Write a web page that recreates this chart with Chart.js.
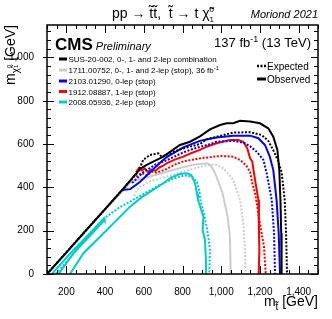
<!DOCTYPE html>
<html>
<head>
<meta charset="utf-8">
<script src="https://cdn.jsdelivr.net/npm/chart.js@4.4.1/dist/chart.umd.min.js"></script>
<style>html,body{margin:0;padding:0;background:#fff}</style>
</head>
<body>
<canvas id="c" width="332" height="319"></canvas>
<script>
// axis ticks
const xTicks = [200, 400, 600, 800, 1000, 1200, 1400];
const yTicks = [0, 200, 400, 600, 800, 1000];

// contours, [m_stop, m_lsp] in GeV
const comboObs = [[100,0],[200,100],[300,200],[400,300],[500,400],[580,485],[615,504],[649,519],[701,542],[787,596],[839,611],[890,636],[942,668],[994,688],[1028,696],[1062,696],[1097,708],[1149,704],[1200,696],[1243,673],[1269,634],[1290,573],[1300,480],[1306,342],[1310,188],[1312,0]];
const comboExp = [[100,0],[200,100],[300,200],[400,300],[500,400],[570,470],[597,527],[632,550],[675,557],[692,542],[740,560],[804,580],[890,600],[925,622],[976,634],[1062,653],[1149,655],[1209,642],[1243,615],[1270,570],[1295,520],[1312,470],[1328,342],[1335,189],[1340,0]];
const old36Obs = [[104,0],[204,100],[304,200],[404,300],[500,392],[540,430],[597,440],[649,455],[701,468],[770,485],[856,505],[925,511],[942,505],[960,480],[976,450],[1007,373],[1033,265],[1045,172],[1049,0]];
const old36Exp = [[550,360],[563,388],[580,403],[632,427],[718,450],[804,473],[890,495],[942,504],[976,504],[1011,488],[1062,434],[1097,342],[1114,234],[1123,111],[1126,0]];
const zeroLepObs = [[485,388],[530,392],[580,425],[632,470],[680,510],[718,540],[804,585],[890,615],[942,625],[976,630],[1062,639],[1149,639],[1192,627],[1226,596],[1250,545],[1269,480],[1286,342],[1297,188],[1304,0]];
const zeroLepExp = [[540,420],[597,470],[660,505],[718,525],[800,560],[856,578],[942,600],[976,611],[1062,615],[1120,605],[1149,590],[1183,565],[1218,527],[1235,465],[1261,342],[1273,188],[1278,0]];
const oneLepObs = [[560,470],[575,490],[590,478],[605,488],[620,472],[640,482],[660,476],[680,492],[700,500],[718,511],[760,528],[804,542],[850,560],[890,573],[925,588],[976,604],[1045,619],[1088,619],[1114,611],[1135,580],[1149,534],[1160,520],[1175,434],[1192,342],[1195,188],[1197,111],[1194,0]];
const oneLepExp = [[560,450],[590,466],[615,455],[640,472],[667,468],[718,485],[760,505],[804,520],[890,534],[994,545],[1062,542],[1100,525],[1130,500],[1150,470],[1160,420],[1175,373],[1200,234],[1221,126],[1230,0]];
const twoLepObs = [[219,0],[288,96],[374,172],[460,249],[529,311],[590,355],[650,390],[701,419],[740,445],[787,462],[822,465],[845,457],[865,419],[875,370],[880,342],[895,300],[908,265],[904,203],[916,157],[921,65],[921,0]];
const twoLepObsLoop = [[125,0],[236,110],[322,188],[395,258],[398,250],[322,176],[236,95],[160,0]];
const twoLepExp = [[145,0],[230,85],[320,180],[408,265],[470,305],[529,334],[600,370],[680,410],[750,440],[810,455],[850,450],[875,425],[888,380],[892,342],[910,280],[925,218],[935,160],[942,111],[938,0]];

const legendLabels = [
  'SUS-20-002, 0-, 1- and 2-lep combination',
  '1711.00752, 0-, 1- and 2-lep (stop), 36 fb',
  '2103.01290, 0-lep (stop)',
  '1912.08887, 1-lep (stop)',
  '2008.05936, 2-lep (stop)'
];
const BLACK = '#000000', GREY = '#cccccc', BLUE = '#0000ff', RED = '#ff0000', CYAN = '#00cccc';
const legendColors = [BLACK, GREY, BLUE, RED, CYAN];

const FONT = '"Liberation Sans", Arial, "DejaVu Sans", sans-serif';
const DOT = [2, 1.6];

function curve(pts, color, dashed) {
  return {
    data: pts.map(p => ({ x: p[0], y: p[1] })),
    borderColor: color,
    borderWidth: 2,
    borderDash: dashed ? DOT : [],
    showLine: true,
    fill: false,
    pointRadius: 0,
    tension: 0
  };
}

// draws a run of text pieces, sizes and offsets each
function rich(ctx, x, y, parts, alignRight) {
  const w = parts.map(p => {
    if (p.sup !== undefined) {
      ctx.font = `${p.size}px ${FONT}`;
      return Math.max(ctx.measureText(p.sup).width, ctx.measureText(p.sub).width);
    }
    ctx.font = `${p.style || ''} ${p.size}px ${FONT}`;
    return ctx.measureText(p.t).width;
  });
  let cx = alignRight ? x - w.reduce((a, b) => a + b, 0) : x;
  parts.forEach((p, i) => {
    if (p.sup !== undefined) {
      ctx.font = `${p.size}px ${FONT}`;
      ctx.fillText(p.sup, cx, y - p.size * 0.75);
      ctx.fillText(p.sub, cx, y + p.size * 0.55);
    } else {
      ctx.font = `${p.style || ''} ${p.size}px ${FONT}`;
      ctx.fillText(p.t, cx, y + (p.dy || 0));
    }
    cx += w[i];
  });
}

const decor = {
  id: 'decor',
  afterDraw(chart) {
    const ctx = chart.ctx;
    const { left, right, top, bottom } = chart.chartArea;
    const xs = chart.scales.x, ys = chart.scales.y;
    ctx.save();
    ctx.strokeStyle = '#000';
    ctx.lineWidth = 1;
    // ticks on all four sides
    for (let v = 100; v <= 1500; v += 50) {
      const px = Math.round(xs.getPixelForValue(v)) + 0.5;
      const len = v % 200 === 0 ? 8 : 4;
      ctx.beginPath();
      ctx.moveTo(px, bottom); ctx.lineTo(px, bottom - len);
      ctx.moveTo(px, top); ctx.lineTo(px, top + len);
      ctx.stroke();
    }
    for (let v = 0; v <= 1150; v += 40) {
      const py = Math.round(ys.getPixelForValue(v)) + 0.5;
      const major = v % 200 === 0;
      const len = major ? 7 : 4;
      ctx.beginPath();
      ctx.moveTo(left - (major ? 4 : 0), py); ctx.lineTo(left + len, py);
      ctx.moveTo(right, py); ctx.lineTo(right - len, py);
      ctx.stroke();
    }
    ctx.lineWidth = 1.5;
    ctx.strokeRect(left, top, right - left, bottom - top);

    ctx.fillStyle = '#000';
    ctx.textBaseline = 'alphabetic';
    // title
    rich(ctx, 112, 18, [
      { t: 'pp \u2192 t\u0303t\u0303,  t\u0303 \u2192 t \u03C7\u0303', size: 14 },
      { sup: '0', sub: '1', size: 8 }
    ]);
    rich(ctx, 318, 18, [{ t: 'Moriond 2021', size: 11, style: 'italic' }], true);
    // CMS label and luminosity
    rich(ctx, 55, 50, [{ t: 'CMS', size: 17, style: 'bold' }, { t: ' Preliminary', size: 11, style: 'italic' }]);
    rich(ctx, 311, 47, [
      { t: '137 fb', size: 13 }, { t: '-1', size: 9, dy: -5 }, { t: ' (13 TeV)', size: 13 }
    ], true);

    // legend of analyses
    const ly = [59, 70, 81, 91.5, 102];
    legendLabels.forEach((lab, i) => {
      ctx.strokeStyle = legendColors[i];
      ctx.lineWidth = 3;
      ctx.setLineDash([]);
      ctx.beginPath(); ctx.moveTo(59, ly[i]); ctx.lineTo(67, ly[i]); ctx.stroke();
      const parts = [{ t: lab, size: 8 }];
      if (i === 1) parts.push({ t: '-1', size: 6, dy: -3 });
      rich(ctx, 68.5, ly[i] + 3, parts);
    });
    // expected / observed
    ctx.strokeStyle = '#000';
    ctx.lineWidth = 2.5;
    ctx.setLineDash([2, 1.5]);
    ctx.beginPath(); ctx.moveTo(257, 66); ctx.lineTo(266, 66); ctx.stroke();
    ctx.setLineDash([]);
    ctx.lineWidth = 3;
    ctx.beginPath(); ctx.moveTo(257, 79); ctx.lineTo(266, 79); ctx.stroke();
    rich(ctx, 267, 69.5, [{ t: 'Expected', size: 10 }]);
    rich(ctx, 267, 82.5, [{ t: 'Observed', size: 10 }]);

    // axis titles
    rich(ctx, 318, 306, [
      { t: 'm', size: 14 }, { t: 't\u0303', size: 10, dy: 4 }, { t: ' [GeV]', size: 14 }
    ], true);
    ctx.translate(15, 25);
    ctx.rotate(-Math.PI / 2);
    rich(ctx, 0, 0, [
      { t: 'm', size: 14 }, { t: '\u03C7\u0303', size: 10, dy: 4 }, { sup: '0', sub: '1', size: 6 },
      { t: ' [GeV]', size: 14 }
    ], true);
    ctx.restore();
  }
};

new Chart(document.getElementById('c'), {
  type: 'scatter',
  data: {
    datasets: [
      curve(comboObs, BLACK, false),
      curve(comboExp, BLACK, true),
      curve(zeroLepObs, BLUE, false),
      curve(zeroLepExp, BLUE, true),
      curve(oneLepObs, RED, false),
      curve(oneLepExp, RED, true),
      curve(twoLepObs, CYAN, false),
      curve(twoLepObsLoop, CYAN, false),
      curve(twoLepExp, CYAN, true),
      curve(old36Obs, GREY, false),
      curve(old36Exp, GREY, true)
    ]
  },
  options: {
    responsive: false,
    animation: false,
    devicePixelRatio: 1,
    layout: { padding: { top: 25, right: 14, left: 0, bottom: 0 } },
    plugins: { legend: { display: false }, tooltip: { enabled: false } },
    scales: {
      x: {
        type: 'linear', min: 100, max: 1500,
        grid: { display: false }, border: { display: false },
        ticks: { font: { family: FONT, size: 10 }, color: '#000', padding: 4, maxRotation: 0 },
        afterBuildTicks: s => { s.ticks = xTicks.map(v => ({ value: v })); },
        afterFit: s => { s.height = 45; }
      },
      y: {
        type: 'linear', min: 0, max: 1150,
        grid: { display: false }, border: { display: false },
        ticks: { font: { family: FONT, size: 10 }, color: '#000', padding: 5 },
        afterBuildTicks: s => { s.ticks = yTicks.map(v => ({ value: v })); },
        afterFit: s => { s.width = 47; }
      }
    }
  },
  plugins: [decor]
});
</script>
</body>
</html>
